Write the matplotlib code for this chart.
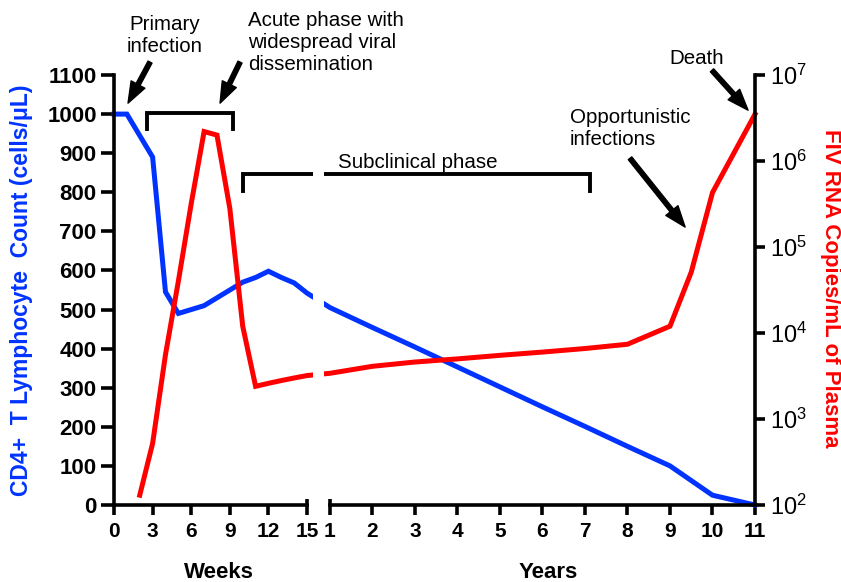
import matplotlib
matplotlib.use("Agg")
import matplotlib.pyplot as plt
import matplotlib.transforms as mtransforms
import numpy as np

plt.rcParams['font.family'] = ['Liberation Sans', 'DejaVu Sans']
plt.rcParams['mathtext.fontset'] = 'custom'
plt.rcParams['mathtext.rm'] = 'Liberation Sans'
plt.rcParams['mathtext.it'] = 'Liberation Sans:italic'
plt.rcParams['mathtext.bf'] = 'Liberation Sans:bold'

# CD4+ T lymphocyte count (cells/uL)
cd4_weeks = [0, 1, 3, 4, 5, 7, 9, 10, 11, 12, 13, 14, 15]
cd4_week_vals = [1000, 1000, 890, 545, 490, 510, 550, 570, 582, 598, 582, 568, 542]
cd4_years = [1, 2, 3, 4, 5, 6, 7, 8, 9, 10, 11]
cd4_year_vals = [505, 454, 404, 353, 302, 251, 201, 150, 100, 25, 0]

# FIV RNA copies/mL of plasma
fiv_weeks = [2, 3, 4, 5, 6, 7, 8, 9, 10, 11, 12, 13, 14, 15]
fiv_week_vals = [1.3e2, 5.2e2, 5.6e3, 4.0e4, 3.2e5, 2.2e6, 2.0e6, 2.8e5,
                 1.2e4, 2.4e3, 2.6e3, 2.8e3, 3.0e3, 3.2e3]
fiv_years = [1, 2, 3, 4, 5, 6, 7, 8, 9, 9.5, 10, 11]
fiv_year_vals = [3.4e3, 4.1e3, 4.6e3, 5.0e3, 5.5e3, 6.0e3, 6.6e3, 7.4e3,
                 1.2e4, 5.1e4, 4.3e5, 3.5e6]

week_ticks = [0, 3, 6, 9, 12, 15]
year_ticks = [1, 2, 3, 4, 5, 6, 7, 8, 9, 10, 11]
cd4_ticks = list(range(0, 1200, 100))
fiv_ticks = [1e2, 1e3, 1e4, 1e5, 1e6, 1e7]

BLUE = '#0033ff'
RED = '#ff0000'

# broken time axis: weeks on the left, years on the right, one shared x scale
YEAR_START = 16.78
YEAR_STEP = 3.302
X_MAX = YEAR_START + 10 * YEAR_STEP


def week_pos(w):
    return np.asarray(w, dtype=float)


def year_pos(y):
    return YEAR_START + (np.asarray(y, dtype=float) - 1) * YEAR_STEP


fig = plt.figure(figsize=(8.41, 5.82), dpi=100)
ax = fig.add_axes([114 / 841, 1 - 505 / 582, 641 / 841, 430 / 582])
ax2 = ax.twinx()

ax.plot(np.concatenate([week_pos(cd4_weeks), year_pos(cd4_years)]),
        cd4_week_vals + cd4_year_vals, color=BLUE, lw=3.6, solid_joinstyle='miter',
        clip_on=False)
ax2.plot(np.concatenate([week_pos(fiv_weeks), year_pos(fiv_years)]),
         fiv_week_vals + fiv_year_vals, color=RED, lw=3.6, solid_joinstyle='miter',
         clip_on=False)

# white gap where the time axis is broken
ax2.axvspan(15.45, 16.32, ymin=0.01, ymax=1, color='white', zorder=5, lw=0)

ax.set_xlim(0, X_MAX)
ax.set_ylim(0, 1100)
ax2.set_yscale('log')
ax2.set_ylim(1e2, 1e7)

for a in (ax, ax2):
    a.spines['top'].set_visible(False)
    a.spines['bottom'].set_visible(False)
ax.spines['right'].set_visible(False)
ax2.spines['left'].set_visible(False)
ax.spines['left'].set_linewidth(2.6)
ax2.spines['right'].set_linewidth(2.6)

ax.set_yticks(cd4_ticks)
ax.set_yticklabels([str(v) for v in cd4_ticks], fontsize=16, fontweight='bold')
ax.tick_params(axis='y', length=9.5, width=2.6, pad=3)

ax2.set_yticks(fiv_ticks)
ax2.yaxis.set_minor_locator(matplotlib.ticker.NullLocator())
ax2.set_yticklabels([r'$10^{%d}$' % int(np.log10(v)) for v in fiv_ticks], fontsize=17)
ax2.tick_params(axis='y', length=7.5, width=2.6, pad=3)

xt = np.concatenate([week_pos(week_ticks), year_pos(year_ticks)])
ax.set_xticks(xt)
ax.set_xticklabels([str(t) for t in week_ticks] + [str(t) for t in year_ticks],
                   fontsize=15, fontweight='bold')
ax.tick_params(axis='x', length=7.5, width=2.6, pad=5)

# bottom axis drawn as two segments
trans = mtransforms.blended_transform_factory(ax.transData, ax.transAxes)
for x0, x1 in [(0, 15), (YEAR_START, X_MAX)]:
    ax.plot([x0, x1], [0, 0], transform=trans, color='black', lw=2.6,
            solid_capstyle='projecting', clip_on=False)
for xb in (15, YEAR_START):
    ax.plot([xb, xb], [0, 0.013], transform=trans, color='black', lw=2.6,
            solid_capstyle='butt', clip_on=False)

# axis titles
fig.text(22 / 841, 1 - 290 / 582, 'CD4+  T Lymphocyte  Count (cells/\u03bcL)',
         rotation=90, ha='center', va='center', color=BLUE, fontsize=16.5,
         fontweight='bold')
fig.text(831 / 841, 1 - 288 / 582, 'FIV RNA Copies/mL of Plasma',
         rotation=270, ha='center', va='center', color=RED, fontsize=16,
         fontweight='bold')
fig.text(219 / 841, 1 - 573 / 582, 'Weeks', ha='center', va='center',
         fontsize=16, fontweight='bold')
fig.text(548 / 841, 1 - 573 / 582, 'Years', ha='center', va='center',
         fontsize=16, fontweight='bold')

# brackets
def bracket(x0, x1, y_top, y_foot):
    ax.plot([x0, x0, x1, x1], [y_foot, y_top, y_top, y_foot], color='black',
            lw=2.8, solid_joinstyle='miter', clip_on=False, zorder=4)


bracket(2.56, 9.25, 1003, 962)
bracket(10.02, 36.99, 847, 803)

arrow_kw = dict(arrowstyle='simple,head_length=0.95,head_width=0.7,tail_width=0.2',
                mutation_scale=16, fc='black', ec='black', shrinkA=0, shrinkB=0)

ANN_SIZE = 14.8
ax.text(3.96, 1202, 'Primary\ninfection', ha='center', va='center',
        fontsize=ANN_SIZE)
ax.annotate('', xy=(1.09, 1028), xytext=(2.80, 1133), annotation_clip=False,
            arrowprops=arrow_kw)
ax.text(10.41, 1184, 'Acute phase with\nwidespread viral\ndissemination',
        ha='left', va='center', fontsize=ANN_SIZE)
ax.annotate('', xy=(8.24, 1028), xytext=(9.79, 1133), annotation_clip=False,
            arrowprops=arrow_kw)
ax.text(23.62, 877, 'Subclinical phase', ha='center', va='center', fontsize=ANN_SIZE)
ax.text(35.43, 962, 'Opportunistic\ninfections', ha='left', va='center',
        fontsize=ANN_SIZE)
ax.annotate('', xy=(44.37, 711), xytext=(40.09, 887), annotation_clip=False,
            arrowprops=arrow_kw)
ax.text(45.3, 1143, 'Death', ha='center', va='center', fontsize=ANN_SIZE)
ax.annotate('', xy=(49.26, 1010), xytext=(46.46, 1112), annotation_clip=False,
            arrowprops=arrow_kw)

fig.savefig('out.png', dpi=100)
